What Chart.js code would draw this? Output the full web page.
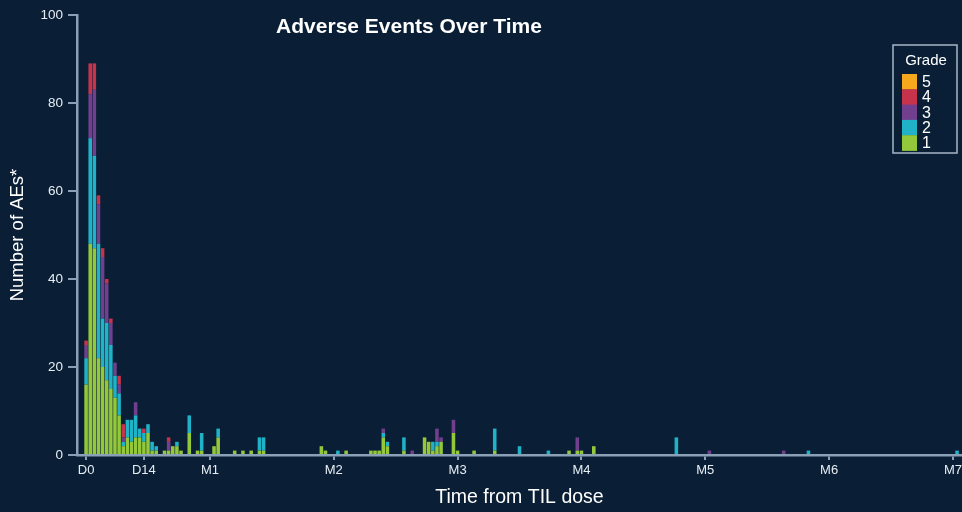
<!DOCTYPE html>
<html>
<head>
<meta charset="utf-8">
<script src="https://cdn.jsdelivr.net/npm/chart.js@4.4.1/dist/chart.umd.min.js"></script>
<style>
  html, body { margin: 0; padding: 0; background: #0a1f36; overflow: hidden; }
  #wrap { position: relative; width: 962px; height: 512px; }
</style>
</head>
<body>
<div id="wrap"><canvas id="aeChart"></canvas></div>
<script>
// Days after TIL infusion on which adverse events were recorded
const days = [0,1,2,3,4,5,6,7,8,9,10,11,12,13,14,15,16,17,
  19,20,21,22,23,25,27,28,31,32,36,38,40,42,43,
  57,58,61,63,69,70,71,72,73,77,79,82,83,84,85,86,89,90,94,99,
  105,112,117,119,120,123,143,151,169,175,211];

// Number of AEs per day, by CTCAE grade
const grade1 = [16,48,47,22,20,17,15,13,9,2,4,3,4,4,3,5,1,1,
  1,1,2,2,1,5,1,1,2,4,1,1,1,1,1,
  2,1,0,1,1,1,1,4,2,1,0,4,3,1,2,3,5,1,1,1,
  0,0,1,1,1,2,0,0,0,0,0];
const grade2 = [6,24,21,26,11,13,10,5,5,1,4,5,5,2,2,2,2,1,
  0,0,0,1,0,4,0,4,0,2,0,0,0,3,3,
  0,0,1,0,0,0,0,1,1,3,0,0,0,2,1,0,0,0,0,5,
  2,1,0,0,0,0,4,0,0,1,1];
const grade3 = [3,10,15,9,14,9,5,3,2,1,0,0,3,0,0,0,0,0,
  0,2,0,0,0,0,0,0,0,0,0,0,0,0,0,
  0,0,0,0,0,0,0,1,0,0,1,0,0,0,3,1,3,0,0,0,
  0,0,0,3,0,0,0,1,1,0,0];
const grade4 = [1,7,6,2,2,1,1,0,2,3,0,0,0,0,1,0,0,0,
  0,1,0,0,0,0,0,0,0,0,0,0,0,0,0,
  0,0,0,0,0,0,0,0,0,0,0,0,0,0,0,0,0,0,0,0,
  0,0,0,0,0,0,0,0,0,0,0];
const grade5 = [0,0,0,0,0,0,0,0,0,0,0,0,0,0,0,0,0,0,
  0,0,0,0,0,0,0,0,0,0,0,0,0,0,0,
  0,0,0,0,0,0,0,0,0,0,0,0,0,0,0,0,0,0,0,0,
  0,0,0,0,0,0,0,0,0,0,0];

// Axis tick positions (days) and their labels
const tickDays = [0, 14, 30, 60, 90, 120, 150, 180, 210];
const tickLabels = ['D0', 'D14', 'M1', 'M2', 'M3', 'M4', 'M5', 'M6', 'M7'];

const gradeNames = ['1', '2', '3', '4', '5'];
const gradeColors = ['#93c83a', '#20b3c7', '#723f8e', '#c8334c', '#f6a91d'];
const gradeSeries = [grade1, grade2, grade3, grade4, grade5];

const chartTitle = 'Adverse Events Over Time';
const legendTitle = 'Grade';

const BG = '#0a1f36';
const AXIS = '#8aa0b6';
const TEXT = '#e6edf3';
const FONT = '"Liberation Sans", Arial, sans-serif';

const backgroundPlugin = {
  id: 'bgFill',
  beforeDraw(chart) {
    const c = chart.ctx;
    c.save();
    c.fillStyle = BG;
    c.fillRect(0, 0, chart.width, chart.height);
    c.restore();
  }
};

const headingPlugin = {
  id: 'heading',
  afterDraw(chart) {
    const c = chart.ctx;
    c.save();
    c.font = 'bold 21px ' + FONT;
    c.fillStyle = '#ffffff';
    c.textAlign = 'center';
    c.textBaseline = 'middle';
    c.fillText(chartTitle, 409, 27);
    c.restore();
  }
};

const gradeLegendPlugin = {
  id: 'gradeLegend',
  afterDraw(chart) {
    const c = chart.ctx;
    const x = 893, y = 45, w = 64, h = 108;
    c.save();
    c.strokeStyle = '#a7b6c6';
    c.lineWidth = 1.5;
    c.strokeRect(x, y, w, h);
    c.fillStyle = '#ffffff';
    c.textBaseline = 'middle';
    c.textAlign = 'center';
    c.font = '15px ' + FONT;
    c.fillText(legendTitle, x + w / 2 + 1, 61);
    const sw = 15, sh = 15.3, sx = 902, sy = 74;
    c.textAlign = 'left';
    c.font = '16px ' + FONT;
    for (let i = 0; i < gradeNames.length; i++) {
      const g = gradeNames.length - 1 - i; // highest grade on top
      c.fillStyle = gradeColors[g];
      c.fillRect(sx, sy + i * sh, sw, sh + 0.4);
      c.fillStyle = '#ffffff';
      c.fillText(gradeNames[g], sx + sw + 5, sy + i * sh + sh / 2 + 1);
    }
    c.restore();
  }
};

const datasets = gradeSeries.map((vals, i) => ({
  label: 'Grade ' + gradeNames[i],
  data: days.map((d, j) => ({ x: d, y: vals[j] })),
  backgroundColor: gradeColors[i],
  borderWidth: 0,
  barPercentage: 0.86,
  categoryPercentage: 1.0,
  stack: 'ae'
}));

new Chart(document.getElementById('aeChart'), {
  type: 'bar',
  data: { datasets },
  options: {
    animation: false,
    responsive: true,
    maintainAspectRatio: false,
    devicePixelRatio: 1,
    layout: { padding: { top: 15, right: 0, bottom: 0, left: 0 } },
    plugins: {
      legend: { display: false },
      tooltip: { enabled: false },
      title: { display: false }
    },
    scales: {
      x: {
        type: 'linear',
        stacked: true,
        offset: false,
        min: -2.2,
        max: 212.2,
        afterBuildTicks(axis) {
          axis.ticks = tickDays.map(v => ({ value: v }));
        },
        afterFit(scale) {
          scale.height = 57;
          scale.paddingLeft = 0;
          scale.paddingRight = 0;
        },
        ticks: {
          autoSkip: false,
          maxRotation: 0,
          padding: 3,
          color: TEXT,
          font: { family: FONT, size: 13 },
          callback(value) {
            const k = tickDays.indexOf(value);
            return k >= 0 ? tickLabels[k] : '';
          }
        },
        grid: {
          display: true,
          offset: false,
          drawOnChartArea: false,
          drawTicks: true,
          tickLength: 5,
          color: AXIS,
          lineWidth: 2
        },
        border: { display: true, color: AXIS, width: 2.5 },
        title: {
          display: true,
          text: 'Time from TIL dose',
          color: '#ffffff',
          font: { family: FONT, size: 19.5 },
          padding: { top: 0, bottom: 3 }
        }
      },
      y: {
        stacked: true,
        min: 0,
        max: 100,
        afterFit(scale) {
          scale.width = 77;
          scale.paddingTop = 0;
          scale.paddingBottom = 0;
        },
        ticks: {
          stepSize: 20,
          padding: 5,
          color: TEXT,
          font: { family: FONT, size: 13.5 }
        },
        grid: {
          display: true,
          drawOnChartArea: false,
          drawTicks: true,
          tickLength: 9,
          color: AXIS,
          lineWidth: 2
        },
        border: { display: true, color: AXIS, width: 2.5 },
        title: {
          display: true,
          text: 'Number of AEs*',
          color: '#ffffff',
          font: { family: FONT, size: 18.5 },
          padding: { top: 7, bottom: 0 }
        }
      }
    }
  },
  plugins: [backgroundPlugin, headingPlugin, gradeLegendPlugin]
});
</script>
</body>
</html>
